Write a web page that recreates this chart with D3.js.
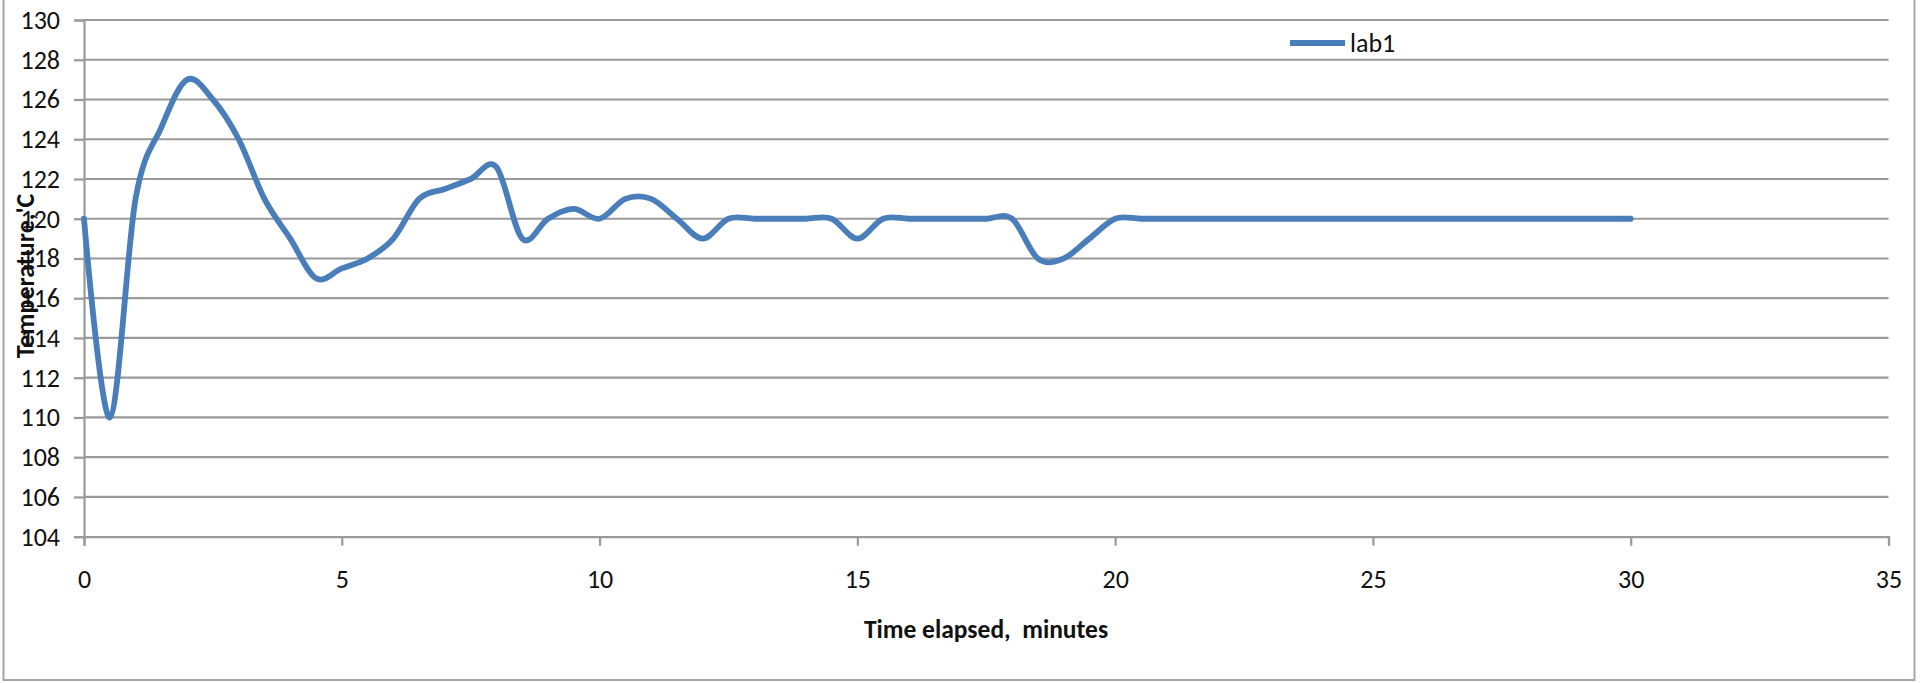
<!DOCTYPE html>
<html><head><meta charset="utf-8">
<script src="https://cdn.jsdelivr.net/npm/d3@7"></script>
<style>html,body{margin:0;padding:0;background:#fff;overflow:hidden}</style>
</head><body><svg id="c" width="1920" height="683"></svg>
<script>
const timeMinutes = [0,0.5,1,1.5,2,2.5,3,3.5,4,4.5,5,5.5,6,6.5,7,7.5,8,8.5,9,9.5,10,10.5,11,11.5,12,12.5,13,13.5,14,14.5,15,15.5,16,16.5,17,17.5,18,18.5,19,19.5,20,20.5,21,21.5,22,22.5,23,23.5,24,24.5,25,25.5,26,26.5,27,27.5,28,28.5,29,29.5,30];
const lab1 = [120,110,121,124.6,127,126,124,121,119,117,117.5,118,119,121,121.5,122,122.6,119,120,120.5,120,121,121,120,119,120,120,120,120,120,119,120,120,120,120,120,120,118,118,119,120,120,120,120,120,120,120,120,120,120,120,120,120,120,120,120,120,120,120,120,120];
const xTicks = [0,5,10,15,20,25,30,35];
const yTicks = [104,106,108,110,112,114,116,118,120,122,124,126,128,130];
const seriesName = "lab1";
const xTitle = "Time elapsed,  minutes";
const yTitle = "Temperature,'C";

const FONT = "Carlito, Calibri, Lato, sans-serif";
const svg = d3.select("#c");
const x = d3.scaleLinear().domain([0,35]).range([84,1888.5]);
const y = d3.scaleLinear().domain([104,130]).range([536.7,20]);

// chart border
svg.append("rect").attr("x",3.5).attr("y",-3).attr("width",1911).attr("height",683)
  .attr("fill","none").attr("stroke","#a6a6a6").attr("stroke-width",2);

// gridlines
svg.append("g").selectAll("line").data(yTicks.filter(d=>d!==104)).join("line")
  .attr("x1",x(0)).attr("x2",x(35)).attr("y1",d=>y(d)).attr("y2",d=>y(d))
  .attr("stroke","#9a9a9a").attr("stroke-width",2.2);

// y axis
const gy = svg.append("g").attr("transform",`translate(${x(0)},0)`)
  .call(d3.axisLeft(y).tickValues(yTicks).tickSize(10).tickPadding(14).tickFormat(d3.format("d")));
gy.select(".domain").attr("stroke","#9a9a9a").attr("stroke-width",2.2);
gy.selectAll(".tick line").attr("stroke","#9a9a9a").attr("stroke-width",2.2);
gy.selectAll(".tick text").attr("font-family",FONT).attr("font-size",26).attr("fill","#111")
  .attr("dy",null).attr("y",8.3);

// x axis
const gx = svg.append("g").attr("transform",`translate(0,${y(104)})`)
  .call(d3.axisBottom(x).tickValues(xTicks).tickSize(9).tickPadding(24).tickFormat(d3.format("d")));
gx.select(".domain").attr("stroke","#9a9a9a").attr("stroke-width",2.2);
gx.selectAll(".tick line").attr("stroke","#9a9a9a").attr("stroke-width",2.2);
gx.selectAll(".tick text").attr("font-family",FONT).attr("font-size",26).attr("fill","#111")
  .attr("dy",null).attr("y",51.5);

// series
const line = d3.line().x((d,i)=>x(timeMinutes[i])).y(d=>y(d)).curve(d3.curveCardinal.tension(0));
svg.append("path").datum(lab1).attr("d",line).attr("fill","none")
  .attr("stroke","#4a7ebb").attr("stroke-width",5.8).attr("stroke-linejoin","round").attr("stroke-linecap","round");

// legend
svg.append("line").attr("x1",1290).attr("x2",1345).attr("y1",43).attr("y2",43)
  .attr("stroke","#4a7ebb").attr("stroke-width",5.8);
svg.append("text").attr("x",1350).attr("y",52).attr("font-family",FONT).attr("font-size",26)
  .attr("fill","#111").text(seriesName);

// axis titles
svg.append("text").attr("x",986).attr("y",638).attr("text-anchor","middle")
  .attr("font-family",FONT).attr("font-weight","bold").attr("font-size",25.5).attr("fill","#111")
  .style("white-space","pre").text(xTitle);
svg.append("text").attr("transform","translate(34,276) rotate(-90)").attr("text-anchor","middle")
  .attr("font-family",FONT).attr("font-weight","bold").attr("font-size",26).attr("fill","#111")
  .text(yTitle);
</script></body></html>
